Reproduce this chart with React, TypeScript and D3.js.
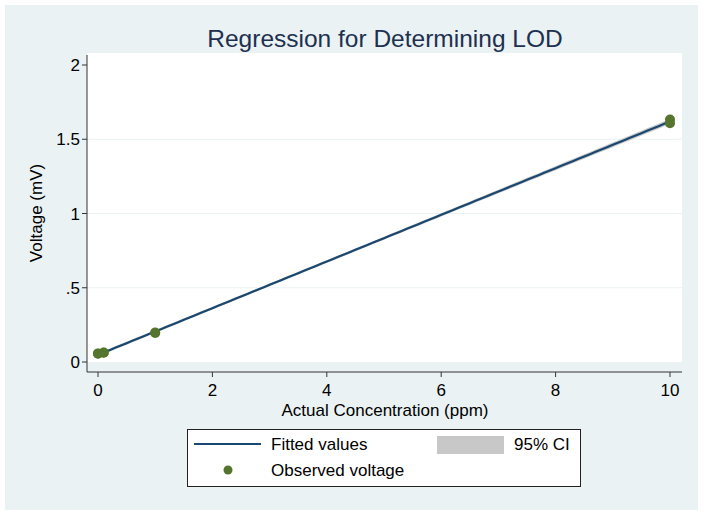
import * as d3 from 'd3';
import { useEffect, useRef } from 'react';

// observaciones (concentración ppm, voltaje mV)
const concentration = [0, 0, 0.1, 0.1, 1, 1, 10, 10];
const voltage = [0.055, 0.058, 0.062, 0.064, 0.195, 0.199, 1.608, 1.633];

const xTicks = [0, 2, 4, 6, 8, 10];
const yTicks = [0, 0.5, 1, 1.5, 2];
const yTickLabels = ['0', '.5', '1', '1.5', '2'];

const legendLabels = ['Fitted values', '95% CI', 'Observed voltage'];

export default function App() {
  const svgRef = useRef<SVGSVGElement | null>(null);

  useEffect(() => {
    if (!svgRef.current) return;
    const width = 704;
    const height = 516;
    const svg = d3.select(svgRef.current);
    svg.selectAll('*').remove();
    svg.attr('width', width).attr('height', height).attr('font-family', 'Liberation Sans, Arial, sans-serif');

    const bg = '#eaf2f3';
    const fs = 17;
    svg.append('rect').attr('width', width).attr('height', height).attr('fill', '#fff');
    svg.append('rect').attr('x', 5).attr('y', 5).attr('width', 693).attr('height', 505).attr('fill', bg);

    // region del gráfico
    svg.append('rect').attr('x', 87).attr('y', 53).attr('width', 595).attr('height', 309).attr('fill', '#fff');

    const x = d3.scaleLinear().domain([0, 10]).range([98, 670]);
    const y = d3.scaleLinear().domain([0, 2]).range([362, 65]);

    // regresión lineal por mínimos cuadrados
    const n = concentration.length;
    const mx = d3.mean(concentration)!;
    const my = d3.mean(voltage)!;
    const sxx = d3.sum(concentration, c => (c - mx) ** 2);
    const sxy = d3.sum(concentration.map((c, i) => (c - mx) * (voltage[i] - my)));
    const b = sxy / sxx;
    const a = my - b * mx;
    const resid = concentration.map((c, i) => voltage[i] - (a + b * c));
    const s = Math.sqrt(d3.sum(resid, r => r * r) / (n - 2));
    const tcrit = 2.447;
    const xs = d3.range(0, 10.001, 0.1);
    const band = xs.map(v => {
      const se = s * Math.sqrt(1 / n + (v - mx) ** 2 / sxx);
      const f = a + b * v;
      return { v, lo: f - tcrit * se, hi: f + tcrit * se, f };
    });

    // grid
    svg.append('g')
      .selectAll('line')
      .data(yTicks.filter(t => t > 0 && t < 2))
      .join('line')
      .attr('x1', 87).attr('x2', 682)
      .attr('y1', d => y(d)).attr('y2', d => y(d))
      .attr('stroke', bg).attr('stroke-width', 1);

    // banda IC
    svg.append('path')
      .datum(band)
      .attr('fill', '#c8c8c8')
      .attr('d', d3.area<any>().x(d => x(d.v)).y0(d => y(d.lo)).y1(d => y(d.hi)));

    svg.append('path')
      .datum(band)
      .attr('fill', 'none')
      .attr('stroke', '#1a476f')
      .attr('stroke-width', 2.2)
      .attr('d', d3.line<any>().x(d => x(d.v)).y(d => y(d.f)));

    svg.append('g')
      .selectAll('circle')
      .data(concentration)
      .join('circle')
      .attr('cx', d => x(d))
      .attr('cy', (d, i) => y(voltage[i]))
      .attr('r', 5)
      .attr('fill', '#55752f');

    // ejes
    const axisColor = '#333';
    svg.append('line').attr('x1', 87).attr('x2', 87).attr('y1', 55).attr('y2', 372).attr('stroke', axisColor);
    svg.append('line').attr('x1', 87).attr('x2', 682).attr('y1', 372).attr('y2', 372).attr('stroke', axisColor);

    const yt = svg.append('g');
    yt.selectAll('line').data(yTicks).join('line')
      .attr('x1', 82).attr('x2', 87).attr('y1', d => y(d)).attr('y2', d => y(d)).attr('stroke', axisColor);
    yt.selectAll('text').data(yTicks).join('text')
      .attr('x', 80).attr('y', d => y(d)).attr('dy', '0.36em')
      .attr('text-anchor', 'end').attr('font-size', fs).attr('fill', '#000')
      .text((d, i) => yTickLabels[i]);

    const xt = svg.append('g');
    xt.selectAll('line').data(xTicks).join('line')
      .attr('x1', d => x(d)).attr('x2', d => x(d)).attr('y1', 372).attr('y2', 377).attr('stroke', axisColor);
    xt.selectAll('text').data(xTicks).join('text')
      .attr('x', d => x(d)).attr('y', 396)
      .attr('text-anchor', 'middle').attr('font-size', fs).attr('fill', '#000')
      .text(d => String(d));

    svg.append('text').attr('x', 385).attr('y', 416).attr('text-anchor', 'middle')
      .attr('font-size', fs).attr('fill', '#000').text('Actual Concentration (ppm)');
    svg.append('text').attr('transform', 'translate(42,213) rotate(-90)').attr('text-anchor', 'middle')
      .attr('font-size', fs).attr('fill', '#000').text('Voltage (mV)');

    svg.append('text').attr('x', 385).attr('y', 47).attr('text-anchor', 'middle')
      .attr('font-size', 24.5).attr('fill', '#1e3050').text('Regression for Determining LOD');

    // leyenda
    const lg = svg.append('g');
    lg.append('rect').attr('x', 187.5).attr('y', 429.5).attr('width', 393).attr('height', 57)
      .attr('fill', '#fff').attr('stroke', '#222').attr('stroke-width', 1);
    lg.append('line').attr('x1', 194).attr('x2', 261).attr('y1', 444).attr('y2', 444)
      .attr('stroke', '#1a476f').attr('stroke-width', 2);
    lg.append('rect').attr('x', 437).attr('y', 436).attr('width', 67).attr('height', 18).attr('fill', '#c8c8c8');
    lg.append('circle').attr('cx', 228).attr('cy', 470).attr('r', 4.5).attr('fill', '#55752f');
    const lt = [
      { x: 271, y: 444 },
      { x: 514, y: 444 },
      { x: 271, y: 470 },
    ];
    lg.selectAll('text').data(legendLabels).join('text')
      .attr('x', (d, i) => lt[i].x).attr('y', (d, i) => lt[i].y).attr('dy', '0.36em')
      .attr('font-size', fs).attr('fill', '#000').text(d => d);
  }, []);

  return <svg ref={svgRef} style={{ display: 'block', position: 'absolute', left: 0, top: 0 }} />;
}
